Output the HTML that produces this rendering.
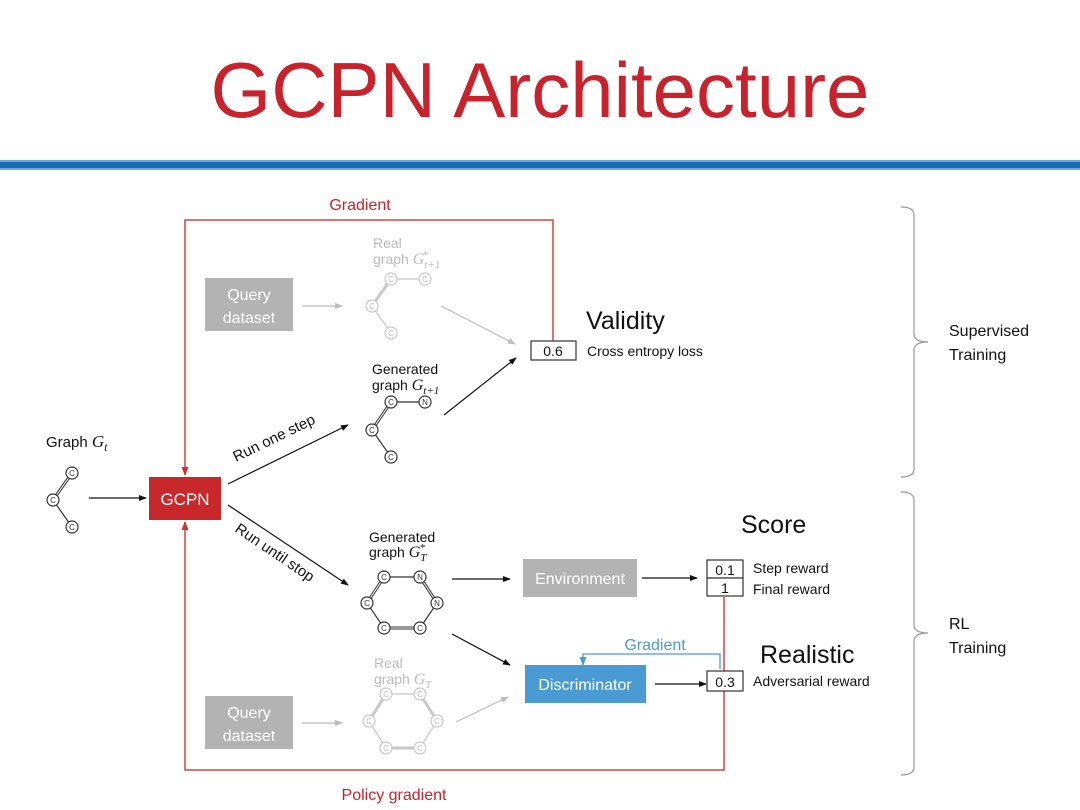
<!DOCTYPE html>
<html><head><meta charset="utf-8"><style>
html,body{margin:0;padding:0;background:#fff;}
svg{display:block;font-family:"Liberation Sans","DejaVu Sans",sans-serif;}
.s{font-size:15px;fill:#111;}
.it{font-family:"Liberation Serif",serif;font-style:italic;}
</style></head><body>
<svg width="1080" height="810" viewBox="0 0 1080 810" xmlns="http://www.w3.org/2000/svg">
<defs>
<marker id="ak" markerWidth="8" markerHeight="8" refX="7" refY="4" orient="auto" markerUnits="userSpaceOnUse"><path d="M0,1 L8,4 L0,7z" fill="#111"/></marker>
<marker id="ag" markerWidth="8" markerHeight="8" refX="7" refY="4" orient="auto" markerUnits="userSpaceOnUse"><path d="M0,1 L8,4 L0,7z" fill="#bbb"/></marker>
<marker id="ar" markerWidth="9" markerHeight="9" refX="8" refY="4.5" orient="auto" markerUnits="userSpaceOnUse"><path d="M0,1 L9,4.5 L0,8z" fill="#d03030"/></marker>
<marker id="ab" markerWidth="9" markerHeight="9" refX="8" refY="4.5" orient="auto" markerUnits="userSpaceOnUse"><path d="M0,1 L9,4.5 L0,8z" fill="#4a9ad4"/></marker>
</defs>
<text x="540" y="117" text-anchor="middle" font-size="78" fill="#c8232c">GCPN Architecture</text>
<rect x="0" y="160" width="1080" height="10" fill="#1a6db5"/>
<rect x="0" y="160" width="1080" height="2" fill="#6aa7d8"/>
<rect x="0" y="168" width="1080" height="2" fill="#6aa7d8"/>

<!-- red feedback loops -->
<polyline points="553,341 553,220 185,220 185,475" fill="none" stroke="#d94040" stroke-width="1.5" marker-end="url(#ar)"/>
<text x="360" y="210" text-anchor="middle" font-size="16" fill="#c8232c">Gradient</text>
<polyline points="724,597 724,770 185,770 185,522" fill="none" stroke="#d94040" stroke-width="1.5" marker-end="url(#ar)"/>
<text x="394" y="800" text-anchor="middle" font-size="16" fill="#c8232c">Policy gradient</text>

<!-- graph Gt -->
<text x="46" y="447" class="s">Graph <tspan class="it" font-size="17">G</tspan><tspan class="it" font-size="12" dy="4">t</tspan></text>
<g fill="#fff" stroke="#333" stroke-width="1.2">
<line x1="72" y1="473" x2="53" y2="500" stroke-width="3"/><line x1="72" y1="473" x2="53" y2="500" stroke="#fff" stroke-width="1"/>
<line x1="53" y1="500" x2="72" y2="527"/>
<circle cx="72" cy="473" r="6"/><circle cx="53" cy="500" r="6"/><circle cx="72" cy="527" r="6"/>
</g>
<g font-size="8" fill="#333" text-anchor="middle"><text x="72" y="476">C</text><text x="53" y="503">C</text><text x="72" y="530">C</text></g>
<line x1="89" y1="498" x2="146" y2="498" stroke="#111" stroke-width="1.2" marker-end="url(#ak)"/>

<!-- GCPN -->
<rect x="149" y="477" width="72" height="43" fill="#c8282c"/>
<text x="185" y="505" text-anchor="middle" font-size="17" fill="#fff">GCPN</text>

<line x1="228" y1="484" x2="348" y2="425" stroke="#111" stroke-width="1.2" marker-end="url(#ak)"/>
<text transform="translate(236,462) rotate(-26)" class="s">Run one step</text>
<line x1="228" y1="505" x2="348" y2="585" stroke="#111" stroke-width="1.2" marker-end="url(#ak)"/>
<text transform="translate(234,531) rotate(34)" class="s">Run until stop</text>

<!-- Query dataset top -->
<rect x="205" y="278" width="88" height="53" fill="#b3b3b3"/>
<text x="249" y="300" text-anchor="middle" font-size="16" fill="#fff">Query</text>
<text x="249" y="323" text-anchor="middle" font-size="16" fill="#fff">dataset</text>
<line x1="302" y1="306" x2="342" y2="306" stroke="#bbb" stroke-width="1.2" marker-end="url(#ag)"/>

<!-- real graph top -->
<text x="373" y="248" font-size="14" fill="#bbb">Real</text>
<text x="373" y="264" font-size="14" fill="#bbb">graph <tspan class="it" font-size="16">G</tspan><tspan class="it" font-size="11" dy="4">t+1</tspan><tspan class="it" font-size="11" dx="-18" dy="-10">*</tspan></text>
<g fill="#fff" stroke="#c8c8c8" stroke-width="1.2">
<line x1="391" y1="279" x2="425" y2="279"/>
<line x1="391" y1="279" x2="372" y2="306" stroke-width="3"/>
<line x1="372" y1="306" x2="391" y2="333"/>
<circle cx="391" cy="279" r="6"/><circle cx="425" cy="279" r="6"/><circle cx="372" cy="306" r="6"/><circle cx="391" cy="333" r="6"/>
</g>
<g font-size="8" fill="#bbb" text-anchor="middle"><text x="391" y="282">C</text><text x="425" y="282">C</text><text x="372" y="309">C</text><text x="391" y="336">C</text></g>
<line x1="441" y1="306" x2="515" y2="344" stroke="#bbb" stroke-width="1.2" marker-end="url(#ag)"/>

<!-- generated graph t+1 -->
<text x="372" y="374" font-size="14" fill="#111">Generated</text>
<text x="372" y="390" font-size="14" fill="#111">graph <tspan class="it" font-size="16">G</tspan><tspan class="it" font-size="11" dy="4">t+1</tspan></text>
<g fill="#fff" stroke="#333" stroke-width="1.2">
<line x1="391" y1="402" x2="425" y2="402"/>
<line x1="391" y1="402" x2="372" y2="430" stroke-width="3"/><line x1="391" y1="402" x2="372" y2="430" stroke="#fff" stroke-width="1"/>
<line x1="372" y1="430" x2="391" y2="457"/>
<circle cx="391" cy="402" r="6"/><circle cx="425" cy="402" r="6"/><circle cx="372" cy="430" r="6"/><circle cx="391" cy="457" r="6"/>
</g>
<g font-size="8" fill="#333" text-anchor="middle"><text x="391" y="405">C</text><text x="425" y="405">N</text><text x="372" y="433">C</text><text x="391" y="460">C</text></g>
<line x1="444" y1="415" x2="516" y2="358" stroke="#111" stroke-width="1.2" marker-end="url(#ak)"/>

<!-- validity -->
<rect x="531" y="341" width="45" height="19" fill="#fff" stroke="#333" stroke-width="1.2"/>
<text x="553" y="356" text-anchor="middle" font-size="14" fill="#111">0.6</text>
<text x="587" y="356" font-size="14" fill="#111">Cross entropy loss</text>
<text x="586" y="329" font-size="25" fill="#111">Validity</text>

<!-- generated graph T -->
<text x="369" y="542" font-size="14" fill="#111">Generated</text>
<text x="369" y="557" font-size="14" fill="#111">graph <tspan class="it" font-size="16">G</tspan><tspan class="it" font-size="11" dy="4">T</tspan><tspan class="it" font-size="11" dx="-7" dy="-10">*</tspan></text>
<g fill="#fff" stroke="#333" stroke-width="1.2">
<polygon points="384,577 420,577 437,603 420,628 384,628 367,603"/>
<line x1="384" y1="577" x2="367" y2="603" stroke-width="3"/><line x1="384" y1="577" x2="367" y2="603" stroke="#fff" stroke-width="1"/>
<line x1="420" y1="577" x2="437" y2="603" stroke-width="3"/><line x1="420" y1="577" x2="437" y2="603" stroke="#fff" stroke-width="1"/>
<line x1="384" y1="628" x2="420" y2="628" stroke-width="3"/><line x1="384" y1="628" x2="420" y2="628" stroke="#fff" stroke-width="1"/>
<circle cx="384" cy="577" r="6"/><circle cx="420" cy="577" r="6"/><circle cx="367" cy="603" r="6"/><circle cx="437" cy="603" r="6"/><circle cx="384" cy="628" r="6"/><circle cx="420" cy="628" r="6"/>
</g>
<g font-size="8" fill="#333" text-anchor="middle"><text x="384" y="580">C</text><text x="420" y="580">N</text><text x="367" y="606">C</text><text x="437" y="606">N</text><text x="384" y="631">C</text><text x="420" y="631">C</text></g>

<line x1="452" y1="579" x2="510" y2="579" stroke="#111" stroke-width="1.2" marker-end="url(#ak)"/>
<line x1="452" y1="634" x2="510" y2="665" stroke="#111" stroke-width="1.2" marker-end="url(#ak)"/>

<!-- Environment -->
<rect x="523" y="559" width="114" height="38" fill="#b3b3b3"/>
<text x="580" y="584" text-anchor="middle" font-size="16" fill="#fff">Environment</text>
<line x1="642" y1="578" x2="697" y2="578" stroke="#111" stroke-width="1.2" marker-end="url(#ak)"/>
<rect x="707" y="560" width="36" height="18" fill="#fff" stroke="#333" stroke-width="1.2"/>
<rect x="707" y="578" width="36" height="18" fill="#fff" stroke="#333" stroke-width="1.2"/>
<text x="725" y="575" text-anchor="middle" font-size="14" fill="#111">0.1</text>
<text x="725" y="593" text-anchor="middle" font-size="14" fill="#111">1</text>
<text x="753" y="573" font-size="14" fill="#111">Step reward</text>
<text x="753" y="594" font-size="14" fill="#111">Final reward</text>
<text x="741" y="533" font-size="25" fill="#111">Score</text>

<!-- Discriminator -->
<polyline points="720,669 720,654 583,654 583,665" fill="none" stroke="#4a9ad4" stroke-width="1.3" marker-end="url(#ab)"/>
<text x="655" y="650" text-anchor="middle" font-size="16" fill="#4a9ad4">Gradient</text>
<rect x="525" y="665" width="121" height="38" fill="#4a9ad4"/>
<text x="585" y="690" text-anchor="middle" font-size="16" fill="#fff">Discriminator</text>
<line x1="655" y1="684" x2="706" y2="684" stroke="#111" stroke-width="1.2" marker-end="url(#ak)"/>
<rect x="707" y="671" width="36" height="20" fill="#fff" stroke="#333" stroke-width="1.2"/>
<text x="725" y="687" text-anchor="middle" font-size="14" fill="#111">0.3</text>
<text x="753" y="686" font-size="14" fill="#111">Adversarial reward</text>
<text x="760" y="663" font-size="25" fill="#111">Realistic</text>

<!-- bottom query -->
<rect x="205" y="696" width="88" height="53" fill="#b3b3b3"/>
<text x="249" y="718" text-anchor="middle" font-size="16" fill="#fff">Query</text>
<text x="249" y="741" text-anchor="middle" font-size="16" fill="#fff">dataset</text>
<line x1="302" y1="723" x2="342" y2="723" stroke="#bbb" stroke-width="1.2" marker-end="url(#ag)"/>
<text x="374" y="668" font-size="14" fill="#bbb">Real</text>
<text x="374" y="684" font-size="14" fill="#bbb">graph <tspan class="it" font-size="16">G</tspan><tspan class="it" font-size="11" dy="4">T</tspan></text>
<g fill="#fff" stroke="#c8c8c8" stroke-width="1.2">
<polygon points="386,694 420,694 437,721 420,748 386,748 369,721"/>
<line x1="386" y1="694" x2="369" y2="721" stroke-width="3"/>
<line x1="420" y1="694" x2="437" y2="721" stroke-width="3"/>
<line x1="386" y1="748" x2="420" y2="748" stroke-width="3"/>
<circle cx="386" cy="694" r="6"/><circle cx="420" cy="694" r="6"/><circle cx="369" cy="721" r="6"/><circle cx="437" cy="721" r="6"/><circle cx="386" cy="748" r="6"/><circle cx="420" cy="748" r="6"/>
</g>
<g font-size="8" fill="#bbb" text-anchor="middle"><text x="386" y="697">C</text><text x="420" y="697">C</text><text x="369" y="724">C</text><text x="437" y="724">C</text><text x="386" y="751">C</text><text x="420" y="751">C</text></g>
<line x1="456" y1="722" x2="508" y2="697" stroke="#bbb" stroke-width="1.2" marker-end="url(#ag)"/>

<!-- braces -->
<path d="M901,207 Q914,207 914,215 L914,334 Q914,342 928,342 Q914,342 914,350 L914,469 Q914,477 901,477" fill="none" stroke="#999" stroke-width="1.2"/>
<path d="M901,492 Q914,492 914,500 L914,625 Q914,633 928,633 Q914,633 914,641 L914,767 Q914,775 901,775" fill="none" stroke="#999" stroke-width="1.2"/>
<text x="949" y="336" font-size="16" fill="#111">Supervised</text>
<text x="949" y="360" font-size="16" fill="#111">Training</text>
<text x="949" y="629" font-size="16" fill="#111">RL</text>
<text x="949" y="653" font-size="16" fill="#111">Training</text>
</svg>
</body></html>
